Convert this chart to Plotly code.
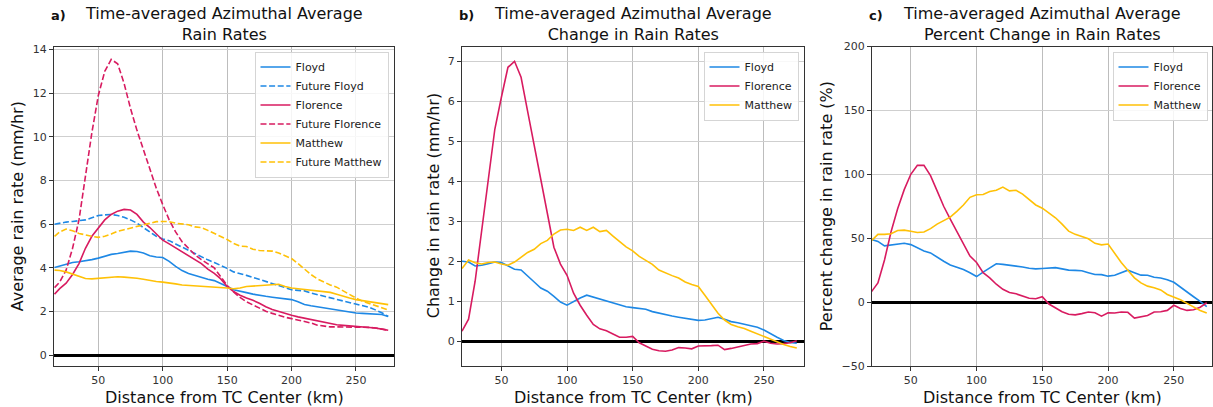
import plotly.graph_objects as go

# ---------------- data ----------------
dist_a = [16, 20, 25, 30, 35, 40, 45, 50, 55, 60, 65, 70, 75, 80, 85, 90, 95, 100, 105, 110,
          115, 120, 125, 130, 135, 140, 145, 150, 155, 160, 165, 170, 175, 180, 185, 190, 195,
          200, 205, 210, 215, 220, 225, 230, 235, 240, 245, 250, 255, 260, 265, 270, 275]
dist_bc = dist_a[1:]

floyd = [4.02, 4.08, 4.18, 4.25, 4.28, 4.32, 4.38, 4.45, 4.55, 4.62, 4.66, 4.70, 4.77, 4.75, 4.68,
         4.56, 4.50, 4.48, 4.30, 4.07, 3.88, 3.75, 3.65, 3.55, 3.48, 3.42, 3.30, 3.15, 3.00, 2.95,
         2.87, 2.80, 2.74, 2.70, 2.66, 2.62, 2.58, 2.55, 2.45, 2.33, 2.27, 2.22, 2.18, 2.12, 2.06,
         2.02, 1.97, 1.94, 1.92, 1.90, 1.89, 1.87, 1.78]
future_floyd = [6.00, 6.05, 6.10, 6.13, 6.15, 6.20, 6.30, 6.40, 6.43, 6.45, 6.40, 6.32, 6.20, 6.05,
                5.85, 5.65, 5.45, 5.33, 5.25, 5.10, 4.95, 4.80, 4.65, 4.50, 4.37, 4.25, 4.12, 3.98,
                3.82, 3.75, 3.66, 3.57, 3.48, 3.40, 3.30, 3.22, 3.10, 3.00, 2.97, 2.95, 2.85, 2.78,
                2.70, 2.62, 2.55, 2.48, 2.42, 2.37, 2.30, 2.20, 2.08, 1.95, 1.78]
florence = [2.80, 3.05, 3.30, 3.70, 4.20, 4.90, 5.45, 5.82, 6.20, 6.45, 6.60, 6.68, 6.65, 6.45,
            6.10, 5.85, 5.55, 5.27, 5.10, 4.92, 4.72, 4.56, 4.38, 4.20, 3.95, 3.75, 3.50, 3.15,
            2.92, 2.75, 2.62, 2.52, 2.38, 2.22, 2.10, 2.00, 1.90, 1.83, 1.76, 1.70, 1.65, 1.58,
            1.50, 1.44, 1.40, 1.37, 1.35, 1.33, 1.30, 1.30, 1.25, 1.20, 1.15]
future_florence = [3.10, 3.35, 3.90, 4.90, 6.20, 8.20, 10.20, 11.90, 13.00, 13.55, 13.35, 12.45,
                   11.30, 10.30, 9.40, 8.55, 7.65, 6.90, 6.20, 5.65, 5.20, 4.90, 4.60, 4.38, 4.20,
                   4.00, 3.60, 3.20, 2.90, 2.65, 2.45, 2.30, 2.15, 2.02, 1.92, 1.82, 1.74, 1.68,
                   1.62, 1.56, 1.48, 1.38, 1.33, 1.30, 1.30, 1.30, 1.30, 1.30, 1.30, 1.28, 1.25,
                   1.20, 1.15]
matthew = [3.90, 3.88, 3.82, 3.72, 3.60, 3.52, 3.50, 3.52, 3.55, 3.58, 3.60, 3.58, 3.56, 3.53,
           3.48, 3.42, 3.38, 3.35, 3.32, 3.27, 3.22, 3.20, 3.18, 3.18, 3.17, 3.15, 3.13, 3.08,
           3.05, 3.08, 3.15, 3.17, 3.20, 3.22, 3.25, 3.25, 3.15, 3.08, 3.05, 3.02, 2.98, 2.95,
           2.92, 2.88, 2.80, 2.70, 2.62, 2.55, 2.50, 2.45, 2.40, 2.36, 2.32]
future_matthew = [5.45, 5.65, 5.78, 5.70, 5.58, 5.50, 5.45, 5.40, 5.45, 5.55, 5.68, 5.75, 5.82,
                  5.88, 5.95, 6.05, 6.12, 6.13, 6.12, 6.05, 6.00, 5.98, 5.88, 5.85, 5.72, 5.58,
                  5.45, 5.30, 5.12, 5.00, 4.98, 4.86, 4.80, 4.78, 4.77, 4.68, 4.55, 4.43, 4.20,
                  3.95, 3.70, 3.50, 3.35, 3.22, 3.12, 2.95, 2.78, 2.62, 2.48, 2.37, 2.28, 2.18, 2.08]

chg_floyd = [2.00, 1.98, 1.88, 1.90, 1.94, 1.98, 1.97, 1.88, 1.80, 1.78, 1.64, 1.48, 1.33, 1.25,
             1.12, 0.98, 0.90, 1.00, 1.08, 1.15, 1.10, 1.05, 1.00, 0.95, 0.90, 0.86, 0.84, 0.82,
             0.80, 0.74, 0.70, 0.67, 0.63, 0.60, 0.57, 0.55, 0.52, 0.53, 0.56, 0.60, 0.55, 0.49,
             0.46, 0.42, 0.38, 0.35, 0.28, 0.18, 0.10, 0.02, -0.03, -0.05]
chg_florence = [0.25, 0.55, 1.50, 2.75, 4.05, 5.30, 6.10, 6.85, 7.00, 6.60, 5.75, 4.85, 4.05, 3.20,
                2.35, 1.93, 1.65, 1.20, 0.90, 0.65, 0.42, 0.31, 0.26, 0.18, 0.10, 0.10, 0.12,
                -0.04, -0.12, -0.20, -0.24, -0.25, -0.22, -0.16, -0.17, -0.19, -0.12, -0.12,
                -0.11, -0.10, -0.21, -0.18, -0.14, -0.10, -0.07, -0.06, 0.00, -0.05, -0.07,
                -0.06, -0.04, 0.01]
chg_matthew = [1.82, 2.03, 1.96, 1.93, 1.97, 1.98, 1.93, 1.90, 1.98, 2.10, 2.22, 2.30, 2.44, 2.52,
               2.68, 2.78, 2.80, 2.77, 2.85, 2.77, 2.85, 2.74, 2.77, 2.63, 2.50, 2.36, 2.26, 2.12,
               2.02, 1.92, 1.78, 1.70, 1.64, 1.58, 1.48, 1.42, 1.37, 1.15, 0.93, 0.70, 0.53, 0.42,
               0.36, 0.32, 0.25, 0.18, 0.12, 0.06, -0.01, -0.08, -0.13, -0.17]

pct_floyd = [49, 47.5, 44, 44.5, 45.5, 46, 45, 42.5, 40, 38.5, 35, 32, 29, 27.5, 25.5, 23, 20, 23.5,
             27, 30, 29.5, 29, 28, 27.5, 26.5, 26, 26.3, 26.6, 27, 26, 25, 24.8, 24.5, 23, 21.6,
             21.5, 20.3, 21, 23, 25, 23, 21.1, 21, 19.5, 18.8, 17.5, 15.5, 11.5, 7.5, 4.2, 0.5, -3.5]
pct_florence = [8, 15, 33, 55, 73, 88, 100, 107, 107, 99, 87, 75, 65, 55, 45, 36, 31, 23, 19, 14,
                10, 7.5, 6.5, 4.7, 3, 2.6, 4.2, -1.5, -4.5, -7.5, -9.5, -10, -9, -7.8, -8.3, -11,
                -8.3, -8.5, -7.8, -8, -12.5, -11.5, -10.5, -7.8, -7.5, -6.5, -2.5, -5, -6.5, -6,
                -4, -0.5]
pct_matthew = [48, 53, 53, 53.5, 56, 56.3, 55.5, 54.5, 54.8, 57.5, 61, 63.5, 66.5, 71, 76, 82, 84,
               84.2, 86.5, 87.5, 90, 87, 87.5, 84.5, 80, 76, 73.5, 70, 66, 61, 55.5, 53, 51, 49.5,
               46, 44.8, 45.4, 38, 31, 25, 19, 15, 12.5, 11.2, 9.5, 6, 4, 1.8, -1, -4, -6.5, -8.5]

x_ticks = [50, 100, 150, 200, 250]
titles = [("a)", "Time-averaged Azimuthal Average", "Rain Rates"),
          ("b)", "Time-averaged Azimuthal Average", "Change in Rain Rates"),
          ("c)", "Time-averaged Azimuthal Average", "Percent Change in Rain Rates")]
y_titles = ["Average rain rate (mm/hr)", "Change in rain rate (mm/hr)", "Percent change in rain rate (%)"]
x_title = "Distance from TC Center (km)"

# ---------------- style ----------------
W, H = 1213, 407
BLUE, PINK, YELLOW = "#1E88E5", "#D81B60", "#FFC107"
FONT = "DejaVu Sans"
LW = 1.6
DASH = "6px,2.6px"

def px_x(p):
    return p / W

def px_y(p):
    return 1 - p / H

dom_x = [(54, 394), (462, 804), (872, 1212)]
dom_y = (366, 46.5)
x_ranges = [[15.6, 279.5], [20.0, 280.5], [20.5, 279.0]]
y_ranges = [[-0.49, 14.14], [-0.62, 7.37], [-50, 200]]
y_ticks = [list(range(0, 15, 2)), list(range(0, 8)), [-50, 0, 50, 100, 150, 200]]
ytitle_x = [17, 433, 826]

fig = go.Figure()

def add(x, y, name, color, dash, idx, legend):
    fig.add_trace(go.Scatter(
        x=x, y=y, name=name, mode="lines",
        line=dict(color=color, width=LW, dash=dash),
        xaxis="x" if idx == 1 else f"x{idx}", yaxis="y" if idx == 1 else f"y{idx}",
        legend=legend))

add(dist_a, floyd, "Floyd", BLUE, "solid", 1, "legend")
add(dist_a, future_floyd, "Future Floyd", BLUE, DASH, 1, "legend")
add(dist_a, florence, "Florence", PINK, "solid", 1, "legend")
add(dist_a, future_florence, "Future Florence", PINK, DASH, 1, "legend")
add(dist_a, matthew, "Matthew", YELLOW, "solid", 1, "legend")
add(dist_a, future_matthew, "Future Matthew", YELLOW, DASH, 1, "legend")

add(dist_bc, chg_floyd, "Floyd", BLUE, "solid", 2, "legend2")
add(dist_bc, chg_florence, "Florence", PINK, "solid", 2, "legend2")
add(dist_bc, chg_matthew, "Matthew", YELLOW, "solid", 2, "legend2")

add(dist_bc, pct_floyd, "Floyd", BLUE, "solid", 3, "legend3")
add(dist_bc, pct_florence, "Florence", PINK, "solid", 3, "legend3")
add(dist_bc, pct_matthew, "Matthew", YELLOW, "solid", 3, "legend3")

layout = dict(
    width=W, height=H,
    margin=dict(l=0, r=0, t=0, b=0, pad=0),
    paper_bgcolor="white", plot_bgcolor="white",
    font=dict(family=FONT, size=11, color="#222"),
    showlegend=True,
)

annotations = []
for i in range(3):
    k = "" if i == 0 else str(i + 1)
    x0, x1 = dom_x[i]
    layout[f"xaxis{k}"] = dict(
        domain=[px_x(x0), px_x(x1)], range=x_ranges[i], anchor=f"y{k}", automargin=False,
        tickvals=x_ticks, ticks="outside", ticklen=4, tickcolor="#333",
        showgrid=True, gridcolor="#bdbdbd", gridwidth=1,
        showline=True, linecolor="#333", linewidth=1, mirror=True,
        zeroline=False, tickfont=dict(size=11, color="#333"))
    layout[f"yaxis{k}"] = dict(
        domain=[px_y(dom_y[0]), px_y(dom_y[1])], range=y_ranges[i], anchor=f"x{k}",
        automargin=False,
        tickvals=y_ticks[i], ticks="outside", ticklen=4, tickcolor="#333",
        showgrid=True, gridcolor="#cfcfcf", gridwidth=1,
        showline=True, linecolor="#333", linewidth=1, mirror=True,
        zeroline=True, zerolinecolor="black", zerolinewidth=2.5,
        tickfont=dict(size=11, color="#333"))
    cx = (x0 + x1) / 2
    lab, t1, t2 = titles[i]
    annotations.append(dict(text=f"{t1}<br>{t2}", x=px_x(cx), y=px_y(24.5), xref="paper",
                            yref="paper", xanchor="center", yanchor="middle", align="center",
                            showarrow=False, font=dict(size=16, color="#111")))
    annotations.append(dict(text=f"<b>{lab}</b>", x=px_x(x0 - 5), y=px_y(16), xref="paper",
                            yref="paper", xanchor="left", yanchor="middle", showarrow=False,
                            font=dict(size=13, color="#111")))
    annotations.append(dict(text=x_title, x=px_x(cx), y=px_y(397), xref="paper", yref="paper",
                            xanchor="center", yanchor="middle", showarrow=False,
                            font=dict(size=16, color="#111")))
    annotations.append(dict(text=y_titles[i], x=px_x(ytitle_x[i]), y=px_y((dom_y[0] + dom_y[1]) / 2),
                            xref="paper", yref="paper", xanchor="center", yanchor="middle",
                            textangle=-90, showarrow=False, font=dict(size=16, color="#111")))

layout["annotations"] = annotations

leg_common = dict(font=dict(family=FONT, size=11, color="#222"), bgcolor="rgba(255,255,255,0.85)",
                  bordercolor="#d5d5d5", borderwidth=1, xanchor="right", yanchor="top",
                  tracegroupgap=0, itemwidth=30)
layout["legend"] = dict(x=px_x(388.5), y=px_y(51.5), **leg_common)
layout["legend2"] = dict(x=px_x(798.5), y=px_y(51.5), **leg_common)
layout["legend3"] = dict(x=px_x(1207.5), y=px_y(51.5), **leg_common)

fig.update_layout(**layout)
fig.write_html("out.html", config={"displayModeBar": False},
               post_script="document.body.style.margin='0';document.body.style.overflow='hidden';")
